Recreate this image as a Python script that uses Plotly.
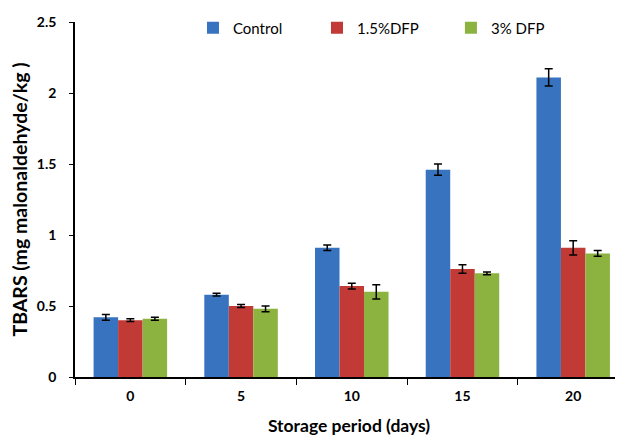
import plotly.graph_objects as go

days = ["0", "5", "10", "15", "20"]
control = [0.42, 0.58, 0.91, 1.46, 2.11]
control_err = [0.02, 0.01, 0.02, 0.04, 0.06]
dfp15 = [0.40, 0.50, 0.64, 0.76, 0.91]
dfp15_err = [0.01, 0.01, 0.02, 0.03, 0.05]
dfp3 = [0.41, 0.48, 0.60, 0.73, 0.87]
dfp3_err = [0.01, 0.02, 0.05, 0.01, 0.02]

series = [
    ("Control", control, control_err, "#3773bf", "legend", 0.2153),
    ("1.5%DFP", dfp15, dfp15_err, "#c23a35", "legend2", 0.4416),
    ("3% DFP", dfp3, dfp3_err, "#8cb23f", "legend3", 0.686),
]

font = "Lato, Carlito, Calibri, sans-serif"
fig = go.Figure()
legend_layout = {}
for name, vals, errs, col, leg, lx in series:
    fig.add_trace(go.Bar(
        x=days, y=vals, name=name, legend=leg,
        marker=dict(color=col, line=dict(width=0)),
        error_y=dict(type="data", array=errs, visible=True,
                     color="black", thickness=1.5, width=4),
    ))
    legend_layout[leg] = dict(
        orientation="h", x=lx, xanchor="left", y=0.983, yanchor="middle",
        font=dict(size=15, family=font), bgcolor="rgba(0,0,0,0)", itemwidth=30,
    )

# page body has an 8px margin, so the figure is shrunk by 8px and margins compensated
fig.update_layout(
    width=615, height=430,
    margin=dict(l=67, r=0, t=14, b=61),
    paper_bgcolor="white", plot_bgcolor="white",
    barmode="group", bargap=0.336, bargroupgap=0,
    font=dict(family=font, color="black"),
    showlegend=True,
    **legend_layout,
    xaxis=dict(
        type="category", range=[-0.5, 4.45],
        showline=True, linecolor="black", linewidth=1.5,
        ticks="outside", tickson="boundaries", ticklen=6, tickcolor="black",
        ticklabelstandoff=5,
        tickfont=dict(size=14, family=font, weight="bold"),
        title=dict(text="<b>Storage period (days)</b>", font=dict(size=17.5, family=font), standoff=17),
        showgrid=False, zeroline=False, automargin=False,
    ),
    yaxis=dict(
        range=[0, 2.5], dtick=0.5, tickformat="~g",
        showline=True, linecolor="black", linewidth=1.5,
        ticks="outside", ticklen=4, tickcolor="black",
        ticklabelstandoff=10,
        tickfont=dict(size=14, family=font, weight="bold"),
        title=dict(text="<b>TBARS (mg malonaldehyde/kg )</b>", font=dict(size=19.5, family=font), standoff=9),
        showgrid=False, zeroline=False, automargin=False,
    ),
)

fig.write_html("out.html")
